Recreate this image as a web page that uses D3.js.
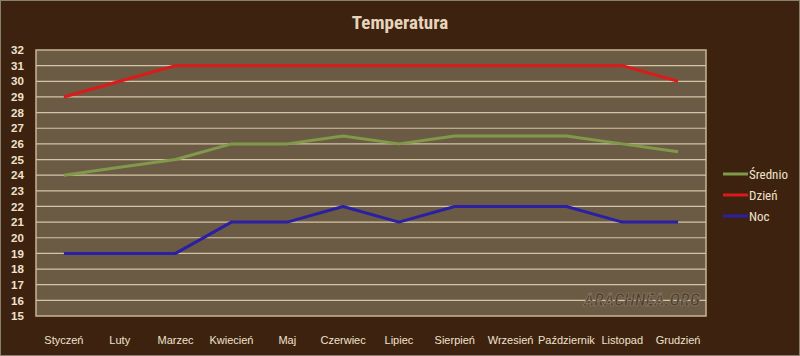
<!DOCTYPE html>
<html><head><meta charset="utf-8">
<script src="https://cdn.jsdelivr.net/npm/d3@7"></script>
<style>
body{margin:0;background:#3d2210;}
svg{display:block;}
text{font-family:"Liberation Sans Narrow","Roboto Condensed","DejaVu Sans Condensed",sans-serif;}
</style></head>
<body><svg id="c" width="800" height="356"></svg>
<script>
const months = ["Styczeń","Luty","Marzec","Kwiecień","Maj","Czerwiec","Lipiec","Sierpień","Wrzesień","Październik","Listopad","Grudzień"];
const srednio = [24,24.5,25,26,26,26.5,26,26.5,26.5,26.5,26,25.5];
const dzien = [29,30,31,31,31,31,31,31,31,31,31,30];
const noc = [19,19,19,21,21,22,21,22,22,22,21,21];
const yTicks = d3.range(15,33);
const seriesNames = ["Średnio","Dzień","Noc"];
const seriesColors = ["#80994a","#dc1a1a","#2b1fa3"];

const svg = d3.select("#c");
svg.append("rect").attr("x",0.5).attr("y",0.5).attr("width",799).attr("height",355)
  .attr("fill","#3d2210").attr("stroke","#8a8070");
svg.append("text").attr("x",400).attr("y",29).attr("text-anchor","middle")
  .attr("fill","#e6d5bc").attr("font-size",19).attr("font-weight","bold").text("Temperatura");

const L=36,R=706,T=50,B=316;
const x = d3.scaleBand().domain(months).range([L,R]);
const y = d3.scaleLinear().domain([15,32]).range([B,T]);
svg.append("rect").attr("x",L).attr("y",T).attr("width",R-L).attr("height",B-T)
  .attr("fill","#6b5b45").attr("stroke","#c8b594").attr("stroke-width",1.5);
svg.append("g").selectAll("line").data(yTicks.slice(1,-1)).join("line")
  .attr("x1",L).attr("x2",R).attr("y1",d=>y(d)).attr("y2",d=>y(d))
  .attr("stroke","#d4c4a6").attr("stroke-width",1.2);

const ya = svg.append("g").attr("transform",`translate(${L-8},0)`)
  .call(d3.axisLeft(y).tickValues(yTicks).tickSize(0).tickPadding(0));
ya.select(".domain").remove();
ya.selectAll("text").attr("fill","#f0e2cc").attr("font-size",11.5).attr("font-weight","bold")
  .attr("text-anchor","start").attr("x",-17).style("font-family","'Liberation Sans Narrow',sans-serif");

const xa = svg.append("g").attr("transform",`translate(0,${B+20})`)
  .call(d3.axisBottom(x).tickSize(0).tickPadding(0));
xa.select(".domain").remove();
xa.selectAll("text").attr("fill","#f0e2cc").attr("font-size",11).attr("font-weight","normal")
  .style("font-family","'Liberation Sans Narrow',sans-serif");

// watermark
svg.append("text").attr("x",700).attr("y",306).attr("text-anchor","end")
  .attr("fill","#4e4232").attr("font-size",18).attr("font-style","italic").attr("font-weight","bold")
  .attr("stroke","#8f7f68").attr("stroke-width",0.6).text("ARACHNEA.ORG");

const data=[srednio,dzien,noc];
const line = d3.line().x((d,i)=>x(months[i])+x.bandwidth()/2).y(d=>y(d));
data.forEach((s,k)=>{
  svg.append("path").attr("d",line(s)).attr("fill","none")
    .attr("stroke",seriesColors[k]).attr("stroke-width",3).attr("stroke-linejoin","round");
});

const lg = svg.append("g").attr("transform","translate(723,174)");
seriesNames.forEach((n,i)=>{
  const g=lg.append("g").attr("transform",`translate(0,${i*21})`);
  g.append("line").attr("x1",0).attr("x2",25).attr("stroke",seriesColors[i]).attr("stroke-width",3);
  g.append("text").attr("x",26).attr("y",4.5).attr("fill","#f0e2cc").attr("font-size",13)
    .attr("font-weight","normal").text(n);
});
</script></body></html>
